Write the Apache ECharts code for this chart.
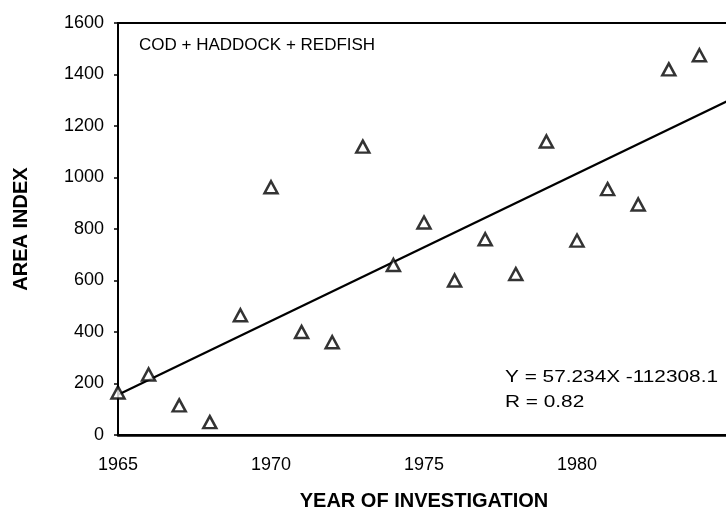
<!DOCTYPE html>
<html>
<head>
<meta charset="utf-8">
<script src="https://cdn.jsdelivr.net/npm/echarts@6/dist/echarts.min.js"></script>
<style>html,body{margin:0;padding:0;background:#fff}#c{width:726px;height:513px}</style>
</head>
<body>
<div id="c"></div>
<script>
var years = [1965,1966,1967,1968,1969,1970,1971,1972,1973,1974,1975,1976,1977,1978,1979,1980,1981,1982,1983,1984];
var areaIndex = [165,235,115,50,465,962,400,360,1120,660,825,600,760,625,1140,755,955,895,1420,1475];
var fitYears = [1965, 1985];
var fitValues = [156.7, 1301.4];
var yTicks = [0,200,400,600,800,1000,1200,1400,1600];
var xTicks = [1965,1970,1975,1980];
var seriesLabel = 'COD + HADDOCK + REDFISH';
var eqText = 'Y = 57.234X -112308.1';
var rText = 'R = 0.82';

var FONT = '"Liberation Sans", Arial, Helvetica, sans-serif';
var chart = echarts.init(document.getElementById('c'));
chart.setOption({
  animation: false,
  grid: {left: 118, top: 23, width: 612, height: 412, containLabel: false, outerBoundsMode: 'none',
    show: true, borderColor: '#000', borderWidth: 2, backgroundColor: 'transparent'},
  xAxis: {
    type: 'value', min: 1965, max: 1985, interval: 5,
    name: 'YEAR OF INVESTIGATION', nameLocation: 'middle', nameGap: 56,
    nameTextStyle: {fontFamily: FONT, fontWeight: 'bold', fontSize: 20, color: '#000'},
    axisLine: {show: true, lineStyle: {color: '#000', width: 2.5}},
    axisTick: {show: false},
    splitLine: {show: false},
    axisLabel: {fontFamily: FONT, fontSize: 18, color: '#000', margin: 21, showMaxLabel: false,
      formatter: function(v){ return xTicks.indexOf(v) >= 0 ? String(v) : ''; }}
  },
  yAxis: {
    type: 'value', min: 0, max: 1600, interval: 200,
    name: 'AREA INDEX', nameLocation: 'middle', nameGap: 87,
    nameTextStyle: {fontFamily: FONT, fontWeight: 'bold', fontSize: 20, color: '#000'},
    axisLine: {show: true, lineStyle: {color: '#000', width: 2}},
    axisTick: {show: true, length: 4, lineStyle: {color: '#000', width: 1.5}},
    splitLine: {show: false},
    axisLabel: {fontFamily: FONT, fontSize: 18, color: '#000', margin: 14,
      formatter: function(v){ return yTicks.indexOf(v) >= 0 ? String(v) : ''; }}
  },
  series: [
    {
      type: 'line', data: fitYears.map(function(y,i){return [y, fitValues[i]];}),
      symbol: 'none', lineStyle: {color: '#000', width: 2.2}, z: 2, silent: true
    },
    {
      type: 'scatter', data: years.map(function(y,i){return [y, areaIndex[i]];}),
      symbol: 'triangle', symbolSize: [13, 12],
      itemStyle: {color: '#fff', borderColor: '#000', borderWidth: 2.5}, z: 3
    }
  ],
  graphic: [
    {type: 'text', x: 139, y: 45, style: {text: seriesLabel, fontFamily: FONT, fontSize: 17, fill: '#000', verticalAlign: 'middle', align: 'left'}},
    {type: 'text', x: 505, y: 378, scaleX: 1.3, style: {text: eqText, fontFamily: FONT, fontSize: 16, fill: '#000', verticalAlign: 'middle', align: 'left'}},
    {type: 'text', x: 505, y: 403, scaleX: 1.3, style: {text: rText, fontFamily: FONT, fontSize: 16, fill: '#000', verticalAlign: 'middle', align: 'left'}}
  ]
});
</script>
</body>
</html>
